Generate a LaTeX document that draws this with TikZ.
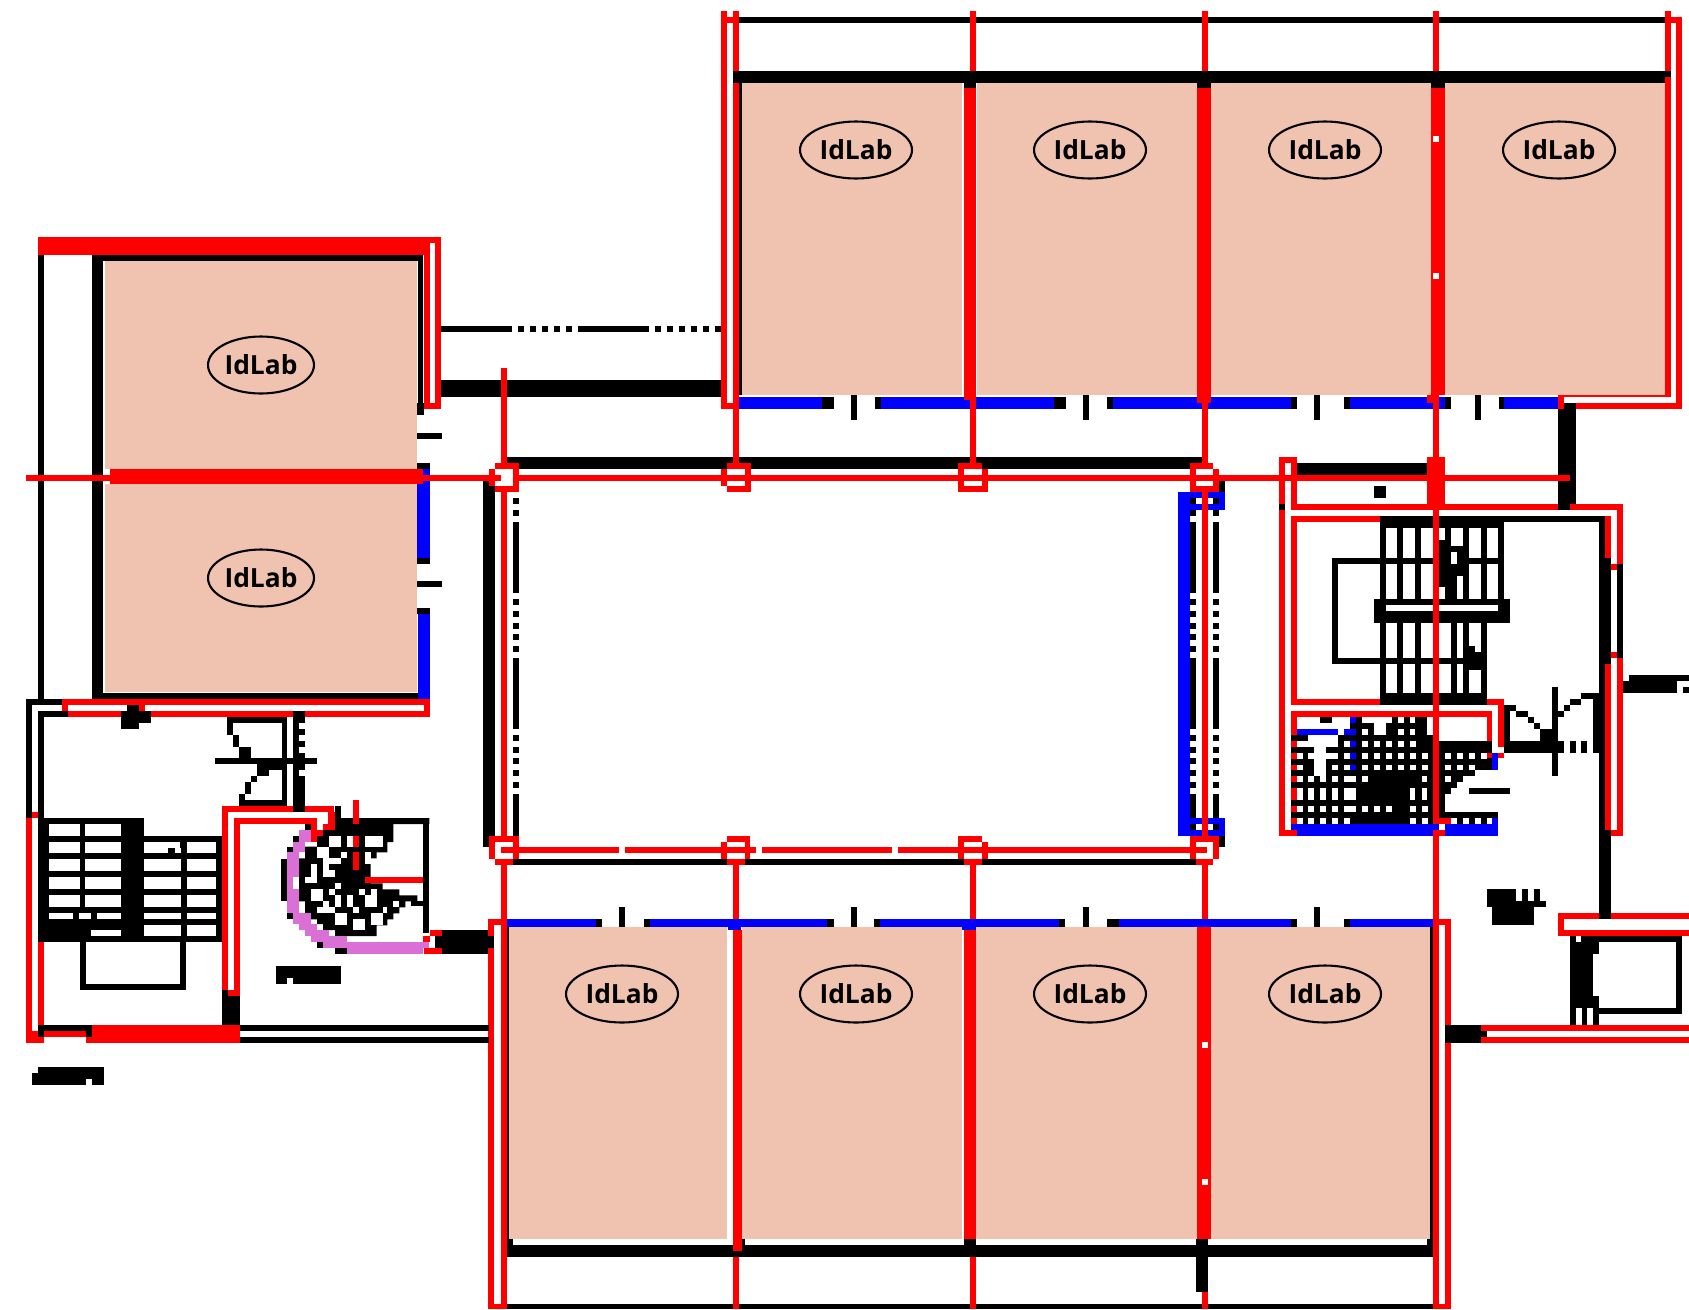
\documentclass[tikz,border=0pt]{standalone}
\usepackage{fontspec}
\usepackage{xcolor}
\usepackage{tikz}
\usetikzlibrary{shapes.geometric}
\setsansfont{Open Sans}
\definecolor{roomtan}{HTML}{F0C3B0}
\definecolor{stairpink}{HTML}{DA70D6}
\tikzset{
    labnode/.style={ellipse, draw, line width=1.2pt, fill=roomtan, minimum width=2.24cm, minimum height=1.14cm, inner sep=0pt, font=\sffamily\bfseries\fontsize{15}{17}\selectfont},
    roompart/.style={fill=roomtan},
    wallpart/.style={fill=black},
    redpart/.style={fill=red},
    bluepart/.style={fill=blue},
    pinkpart/.style={fill=stairpink},
    holepart/.style={fill=white}
}
\begin{document}
\begin{tikzpicture}[x=0.02cm, y=-0.02cm]
    \useasboundingbox (0,0) rectangle (1689,1309);

    % rooms
    \foreach \a/\b/\c/\d in {742/83/962/395, 977/83/1197/395, 1211/83/1431/395, 1445/83/1665/395,
        509/927/727/1239, 742/927/962/1239, 976/927/1197/1239, 1211/927/1430/1239,
        105/260/417/469, 105/484/417/692}
        \fill[roompart] (\a,\b) rectangle (\c,\d);

    % walls
    \foreach \a/\b/\c/\d in {733/17/1665/23, 733/71/1671/83, 739/83/742/395, 964/83/976/88, 1197/83/1211/88, 1431/83/1445/88,
        441/326/512/332, 578/326/649/332, 518/326/524/332, 530/326/536/332, 542/326/548/332, 554/326/560/332, 566/326/572/332,
        655/326/661/332, 667/326/673/332, 679/326/685/332, 691/326/697/332, 703/326/709/332, 715/326/727/332,
        441/380/727/397, 507/457/1202/469, 1558/403/1576/510,
        92/255/103/699, 92/255/423/261, 418/255/423/410, 417/403/424/415, 92/693/424/699, 38/255/44/699,
        417/433/442/439, 417/581/442/587, 417/463/430/469, 417/558/430/564, 417/608/430/614,
        483/481/495/847, 1213/481/1225/492, 1219/480/1225/486, 1219/836/1225/847, 513/859/1196/865,
        507/1245/1433/1257, 507/1239/513/1245, 739/1239/745/1245, 964/1239/976/1245, 1196/1239/1208/1245, 1427/1239/1433/1245,
        1196/1257/1208/1292, 507/1304/1433/1309, 1430/927/1433/1239, 507/927/509/1239,
        822/397/834/409, 851/395/857/420, 875/397/881/409, 1054/397/1066/409, 1083/395/1089/420, 1107/397/1113/409,
        1291/397/1297/409, 1314/395/1320/420, 1344/397/1350/409, 1445/397/1451/409, 1475/395/1481/420, 1499/397/1504/409,
        596/919/602/927, 619/907/625/927, 644/919/650/927, 827/919/834/927, 851/907/857/927, 874/919/880/927,
        1059/919/1065/927, 1083/907/1089/927, 1107/919/1119/927, 1291/919/1297/927, 1314/907/1320/927, 1344/919/1350/927,
        1599/830/1611/919, 1445/1025/1481/1043, 1481/1031/1487/1037,
        1487/889/1516/901, 1522/889/1528/901, 1534/889/1540/901, 1487/901/1546/907, 1492/907/1534/925,
        1570/936/1682/942, 1676/936/1682/1014, 1593/1008/1682/1014, 1570/936/1593/1025, 1593/936/1599/954, 1593/996/1599/1025}
        \fill[wallpart] (\a,\b) rectangle (\c,\d);
    \fill[holepart] (1576,936) rectangle (1581,942);
    \foreach \a/\b in {1576/1008, 1587/1008}
        \fill[holepart] (\a,\b) rectangle (\a+6,1025);

    % dotted courtyard edges
    \foreach \xa in {513, 1190, 1213}
        \foreach \b/\d in {486/492, 498/504, 510/516, 522/593, 599/605, 611/617, 623/629, 634/640, 646/652, 658/729,
            735/741, 747/753, 758/764, 770/776, 782/788, 794/818, 824/830}
            \fill[wallpart] (\xa,\b) rectangle (\xa+6,\d);
    \fill[wallpart] (513,818) rectangle (519,836);

    % windows
    \foreach \a/\b/\c/\d in {739/397/822/409, 881/397/1054/409, 1113/397/1291/409, 1350/397/1445/409, 1504/397/1558/409,
        417/469/430/558, 418/614/430/699,
        507/919/596/927, 650/919/827/927, 880/919/1059/927, 1119/919/1291/927, 1350/919/1433/927, 728/927/741/930, 962/927/976/930,
        1178/492/1190/836, 1178/492/1225/498, 1219/492/1225/510, 1190/504/1225/510,
        1178/818/1225/824, 1219/818/1225/836, 1178/830/1225/836}
        \fill[bluepart] (\a,\b) rectangle (\c,\d);

    % red overlay of the top wing
    \foreach \a/\b/\c/\d in {721/11/727/409, 733/11/739/71, 733/83/739/463, 727/17/733/23, 721/403/739/409,
        970/11/976/71, 964/88/976/400, 970/400/976/463,
        1202/11/1208/71, 1197/88/1211/403, 1202/403/1208/463,
        1433/11/1439/71, 1431/88/1445/395, 1427/395/1439/403, 1433/403/1439/463,
        1665/11/1671/71, 1665/77/1671/395, 1671/17/1682/23, 1676/17/1682/409, 1558/395/1671/397, 1558/395/1564/409, 1576/403/1682/409}
        \fill[redpart] (\a,\b) rectangle (\c,\d);
    \foreach \b in {139, 276}
        \fill[holepart] (1433,\b-3) rectangle (1439,\b+3);

    % left wing and grid lines
    \foreach \a/\b/\c/\d in {38/237/424/255, 397/237/441/243, 424/237/430/409, 435/237/441/409, 424/403/441/409,
        501/368/507/463, 26/475/489/481, 110/469/423/484,
        519/475/721/481, 751/475/958/481, 988/475/1190/481, 1219/475/1570/481, 495/475/501/481,
        495/463/519/469, 489/469/495/486, 513/469/519/486, 495/486/519/492,
        727/463/751/469, 721/469/727/486, 745/469/751/486, 727/486/751/492, 727/475/745/481,
        958/463/982/469, 958/469/964/492, 982/469/988/486, 964/486/988/492, 964/475/982/481,
        1190/463/1213/469, 1190/469/1196/492, 1213/469/1219/486, 1190/486/1219/492, 1196/475/1213/481,
        501/492/507/836, 1202/492/1208/836,
        489/836/519/842, 489/842/495/859, 513/842/519/859, 495/859/513/865,
        727/836/750/842, 721/842/727/859, 745/842/750/859, 727/859/745/865,
        958/836/982/842, 958/842/964/859, 982/842/988/859, 964/859/982/865,
        1190/836/1219/842, 1190/842/1196/859, 1213/842/1219/859, 1196/859/1213/865,
        501/847/619/853, 625/847/756/853, 762/847/892/853, 898/847/1207/853,
        501/865/507/919, 733/865/739/919, 970/865/976/919, 1202/865/1208/919,
        488/919/494/1309, 501/919/507/1309, 488/919/506/925, 488/1304/507/1309,
        733/930/742/1251, 733/1257/739/1309, 964/930/976/1239, 970/1257/976/1309, 1197/927/1211/1239, 1202/1292/1208/1309,
        1433/919/1439/1309, 1445/925/1451/1025, 1445/1043/1451/1309, 1433/919/1451/925, 1433/1304/1451/1309,
        1481/1025/1689/1031, 1481/1037/1689/1043,
        1558/913/1599/919, 1611/913/1689/919, 1558/913/1564/936, 1558/930/1689/936,
        1433/860/1439/919}
        \fill[redpart] (\a,\b) rectangle (\c,\d);
    \foreach \b in {1045, 1182}
        \fill[holepart] (1202,\b-3) rectangle (1208,\b+3);

    % left stair block, drawn in a 3x grid
    \begin{scope}[shift={(0,680)}, scale=1/3]
        \foreach \a/\b/\c/\d in {77/57/185/75, 77/57/95/414, 113/93/203/111, 113/93/131/414,
            380/75/416/93, 362/93/452/129, 362/129/416/147,
            239/785/257/930, 541/785/559/930, 239/912/559/930, 665/930/719/1035,
            719/1035/1466/1053, 719/1070/1466/1088, 113/1035/275/1053, 113/1053/131/1070, 257/1053/275/1070,
            113/1161/311/1179, 95/1179/311/1215, 827/858/1022/912,
            1325/749/1465/821, 1307/767/1483/803,
            682/111/862/129, 682/129/700/165, 700/165/718/201, 718/201/754/234, 846/111/862/378,
            646/234/950/252, 772/252/862/270, 772/270/808/288, 754/288/772/306, 736/306/754/342, 718/342/736/378, 718/360/862/378,
            880/93/898/378, 898/93/916/129, 898/147/916/165, 898/183/916/201, 898/219/916/234, 898/252/916/270, 898/288/916/378,
            113/414/433/785, 433/468/665/785}
            \fill[wallpart] (\a,\b) rectangle (\c,\d);
        \foreach \b/\d in {432/468, 486/520, 538/574, 592/628, 646/682} {
            \fill[holepart] (148,\b) rectangle (240,\d);
            \fill[holepart] (256,\b) rectangle (362,\d);
        }
        \foreach \b/\d in {486/520, 538/574, 592/628, 646/682, 700/716, 735/768} {
            \fill[holepart] (433,\b) rectangle (543,\d);
            \fill[holepart] (560,\b) rectangle (648,\d);
        }
        \foreach \a/\b/\c/\d in {148/700/220/716, 238/700/274/716, 292/700/362/716, 274/750/362/768,
            257/1197/275/1215, 862/894/880/912}
            \fill[holepart] (\a,\b) rectangle (\c,\d);
        \foreach \a/\b/\c/\d in {505/504/525/520, 541/486/560/504}
            \fill[wallpart] (\a,\b) rectangle (\c,\d);
        \foreach \a/\b/\c/\d in {185/57/1289/75, 203/93/362/111, 452/93/880/111, 916/93/1289/111, 185/75/203/93, 416/75/434/93, 1271/75/1289/93,
            665/378/880/396, 916/378/1003/396, 665/396/683/930, 701/414/949/432, 701/432/719/948, 683/930/701/948, 985/396/1003/432,
            77/414/95/1053, 95/396/113/414, 113/785/131/1035, 77/1053/113/1088, 113/1070/131/1088, 131/1053/257/1070,
            275/1035/719/1088, 257/1070/275/1088,
            1271/767/1289/785, 1289/749/1325/767, 1271/803/1325/821}
            \fill[redpart] (\a,\b) rectangle (\c,\d);
    \end{scope}

    % spiral stair, drawn in a 3x grid
    \begin{scope}[shift={(280,800)}, scale=1/3]
        \fill[wallpart] (165,54) -- (448,54) -- (448,72) -- (340,72) -- (340,126) -- (322,126) -- (322,157) -- (290,157) -- (290,175)
            -- (272,175) -- (272,250) -- (308,250) -- (308,268) -- (358,268) -- (358,286) -- (412,286) -- (412,304) -- (376,304)
            -- (376,322) -- (358,322) -- (358,340) -- (340,340) -- (340,358) -- (322,358) -- (322,376) -- (290,376) -- (290,408)
            -- (165,408) -- (165,390) -- (129,390) -- (129,372) -- (111,372) -- (111,358) -- (93,358) -- (93,340) -- (75,340)
            -- (75,304) -- (57,304) -- (57,175) -- (75,175) -- (75,140) -- (111,140) -- (111,108) -- (129,108) -- (129,90) -- (165,90) -- cycle;
        \foreach \a/\b/\c/\d in {430/54/448/400, 394/304/430/318, 165/18/183/54, 40/0/75/36, 3/178/21/304, 21/140/39/157, 39/108/57/126, 75/72/93/90,
            21/340/39/358, 111/427/129/445, 165/445/201/462, 466/408/480/445}
            \fill[wallpart] (\a,\b) rectangle (\c,\d);
        \foreach \a/\b/\c/\d in {147/108/183/140, 201/108/219/140, 255/108/308/140, 111/140/147/175, 183/157/201/175, 255/157/272/193,
            129/175/147/193, 147/175/183/193, 93/193/111/232, 75/232/111/250, 129/193/147/232, 147/211/165/232, 165/250/183/268,
            93/268/129/304, 147/268/165/286, 237/268/255/286, 272/268/290/286, 129/304/147/322, 165/286/183/322, 201/286/219/322,
            255/286/290/322, 340/304/358/322, 111/322/165/340, 219/322/237/340, 308/322/322/340,
            165/340/201/376, 272/340/308/376, 219/358/255/390}
            \fill[holepart] (\a,\b) rectangle (\c,\d);
        \foreach \a/\b/\c/\d in {57/90/93/126, 39/126/75/157, 21/157/57/232, 21/232/39/268, 21/268/57/340, 39/340/93/372,
            57/372/111/390, 75/390/147/408, 93/408/201/427, 129/427/448/445, 201/445/430/462}
            \fill[pinkpart] (\a,\b) rectangle (\c,\d);
        \foreach \a/\b/\c/\d in {147/36/165/90, 129/72/147/90, 93/54/111/126, 93/90/129/108, 219/0/237/72, 219/108/237/140, 219/157/237/211,
            255/232/430/250, 430/408/448/427}
            \fill[redpart] (\a,\b) rectangle (\c,\d);
    \end{scope}

    % right stair block, drawn in a 3x grid
    \begin{scope}[shift={(1260,440)}, scale=1/3]
        \foreach \a/\b/\c/\d in {92/69/519/105, 342/138/378/174, 360/228/732/478, 732/228/1035/246, 1017/246/1035/354,
            1017/354/1053/672, 1071/372/1088/654, 1017/672/1035/939, 999/777/1017/939, 1017/939/1053/1260,
            216/354/234/672, 216/354/360/372, 216/654/360/672, 342/478/750/548, 360/548/682/795,
            1106/705/1287/723, 1088/723/1250/759, 1268/741/1287/759,
            732/795/750/903, 750/795/768/813, 768/813/804/831, 804/831/822/849, 822/849/840/867, 840/867/894/903,
            732/903/912/939, 876/741/894/1008, 894/813/912/831, 912/795/930/813, 930/777/963/795, 963/759/1017/777,
            930/903/948/939, 963/903/981/939, 627/1044/750/1062,
            92/885/537/1152, 270/831/500/885, 180/831/216/849,
            537/903/695/990, 537/990/645/1008, 537/1008/610/1026, 537/1026/590/1044, 537/1044/573/1062, 537/1062/555/1116, 537/1116/714/1152,
            57/192/75/210}
            \fill[wallpart] (\a,\b) rectangle (\c,\d);
        % stair treads
        \foreach \a/\c in {378/411, 429/465, 483/519, 627/663, 681/714} {
            \fill[holepart] (\a,264) rectangle (\c,354);
            \fill[holepart] (\a,372) rectangle (\c,478);
        }
        \foreach \a/\b/\c/\d in {537/264/555/300, 573/264/609/318, 573/336/591/372, 591/408/609/478, 537/440/555/478,
            378/496/714/513, 378/548/411/654, 429/548/465/654, 483/548/519/654, 537/548/573/654, 591/548/609/654, 627/548/663/618, 645/618/663/636,
            378/672/411/760, 429/672/465/760, 483/672/519/760, 537/672/573/760, 591/672/609/760, 627/690/663/760}
            \fill[holepart] (\a,\b) rectangle (\c,\d);
        % lift grid
        \foreach \a/\b/\c/\d in {305/831/396/849, 414/831/432/849, 450/831/465/849, 342/849/378/885, 305/867/323/885, 414/867/432/885, 450/867/465/885,
            144/885/234/903, 110/903/234/921, 162/921/198/939, 110/939/128/957, 144/939/234/957, 162/957/198/975, 110/975/128/990, 162/975/198/990, 216/975/234/990, 162/990/198/1008,
            252/1008/288/1026, 252/1044/288/1080, 252/1098/288/1116, 450/1044/465/1080, 486/1044/500/1080, 305/1008/323/1026, 486/1008/500/1026, 555/1008/573/1026}
            \fill[holepart] (\a,\b) rectangle (\c,\d);
        \foreach \a in {252, 305, 342, 378, 414, 450}
            \fill[holepart] (\a,903) rectangle (\a+18,921);
        \foreach \a in {252, 305, 342, 378, 414, 450, 486, 555, 591, 627, 663}
            \fill[holepart] (\a,939) rectangle (\a+18,957);
        \foreach \a in {252, 305, 342, 378, 414, 450, 486, 555, 591, 627}
            \fill[holepart] (\a,975) rectangle (\a+18,990);
        \foreach \a in {110, 144, 180, 216}
            \foreach \b/\d in {1008/1026, 1044/1080, 1098/1116, 1134/1152}
                \fill[holepart] (\a,\b) rectangle (\a+18,\d);
        \foreach \a in {305, 342, 378, 450, 486}
            \fill[holepart] (\a,1098) rectangle (\a+18,1116);
        \foreach \a in {252, 450, 486, 573, 609, 645, 681}
            \fill[holepart] (\a,1134) rectangle (\a+18,1152);
        \foreach \a/\b/\c/\d in {110/867/234/885, 252/867/288/885, 270/831/288/849, 270/903/288/921, 270/939/288/957, 270/975/288/990,
            695/939/714/990, 696/1134/714/1152, 92/1152/537/1170, 110/1170/519/1187, 555/1152/714/1187}
            \fill[bluepart] (\a,\b) rectangle (\c,\d);
        \foreach \a/\b/\c/\d in {57/51/75/192, 57/210/75/1187, 75/51/110/69, 92/69/110/105, 92/123/110/210, 110/192/894/210, 930/192/1088/210, 1070/210/1088/372, 1053/372/1070/390,
            1035/228/1053/354, 1053/636/1070/654, 1070/654/1088/1187, 1053/1170/1088/1187, 1035/672/1053/1170,
            92/228/360/246, 92/246/110/795, 110/777/360/795, 682/777/732/795, 714/795/732/921, 681/939/695/953, 714/939/732/953,
            92/813/695/831, 681/831/695/903, 92/831/110/885, 92/903/110/921, 92/939/110/957, 92/975/110/990, 92/1008/110/1026, 92/1044/110/1080, 92/1098/110/1116, 92/1134/110/1152,
            75/1170/110/1187, 501/51/555/192, 519/192/537/1134, 519/1134/573/1152, 519/1170/555/1187, 519/1187/537/1260}
            \fill[redpart] (\a,\b) rectangle (\c,\d);
    \end{scope}

    % room labels
    \foreach \name/\xa/\ya in {labA/856/150, labB/1090/150, labC/1325/150, labD/1559/150,
        labG/622/994, labH/856/994, labI/1090/994, labJ/1325/994}
        \node[labnode] (\name) at (\xa,\ya) {IdLab};
    \foreach \name/\ya in {labE/365, labF/578}
        \node[labnode, minimum width=2.12cm] (\name) at (261,\ya) {IdLab};
\end{tikzpicture}
\end{document}
